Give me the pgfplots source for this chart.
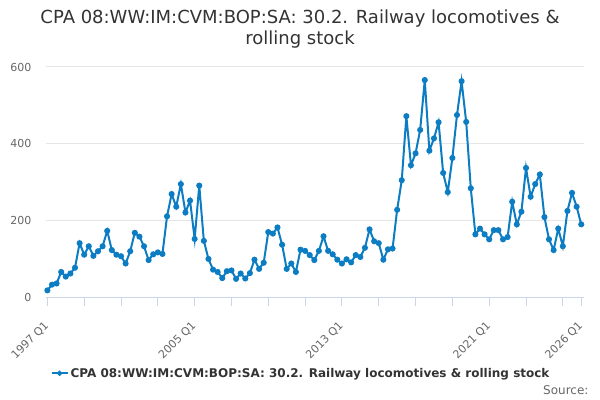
\documentclass[border=0pt]{standalone}
\usepackage{fontspec}
\setmainfont{DejaVu Sans}
\usepackage{pgfplots}
\pgfplotsset{compat=1.18}
\definecolor{series}{RGB}{12,125,194}
\definecolor{gridc}{HTML}{E6E6E6}
\definecolor{axisc}{HTML}{CCD6EB}
\definecolor{labc}{HTML}{666666}
\definecolor{titc}{HTML}{333333}
\begin{document}
\begin{tikzpicture}
\useasboundingbox (0,0) rectangle (600bp,400bp);
\node[anchor=base, font=\fontsize{18bp}{21bp}\selectfont, text=titc] at (300bp,376bp) {CPA 08:WW:IM:CVM:BOP:SA: 30.2. Railway locomotives \&};
\node[anchor=base, font=\fontsize{18bp}{21bp}\selectfont, text=titc] at (300bp,355bp) {rolling stock};
\node[anchor=base east, font=\fontsize{12bp}{14bp}\selectfont, text=labc] at (592bp,6bp) {Source:};
\begin{axis}[
  at={(46bp,102.7bp)}, anchor=south west,
  scale only axis, width=538bp, height=230.3bp,
  xmin=-0.3, xmax=116.6, ymin=0, ymax=600,
  axis x line*=bottom, axis y line*=left,
  axis line style={-},
  x axis line style={draw=axisc, line width=1bp},
  y axis line style={draw=none},
  ytick={0,200,400,600},
  ymajorgrids, grid style={draw=gridc, line width=1bp},
  xtick={0,32,64,96,116},
  xticklabels={1997 Q1,2005 Q1,2013 Q1,2021 Q1,2026 Q1},
  minor xtick={8,16,24,40,48,56,72,80,88,104,112},
  tick align=outside,
  major tick length=9bp, minor tick length=9bp,
  xtick style={draw=axisc, line width=1bp},
  minor x tick style={draw=axisc, line width=1bp},
  ytick style={draw=none},
  /pgf/number format/assume math mode=true,
  yticklabel style={font=\fontsize{11bp}{13bp}\selectfont, text=labc, anchor=east, xshift=-2bp},
  xticklabel style={xshift=-4bp, yshift=-9bp, font=\fontsize{11bp}{13bp}\selectfont, text=labc, rotate=45, anchor=north east},
  legend style={at={(0.474,-0.33)}, anchor=center, draw=none, fill=none,
    font=\bfseries\fontsize{12bp}{14bp}\selectfont, text=titc, inner sep=0pt},
  legend image code/.code={\draw[mark repeat=2,mark phase=2,mark size=1.5bp] plot coordinates {(0bp,0bp) (8bp,0bp) (16bp,0bp)};},
  clip=false,
]
\addplot[color=series, line width=2bp, mark=*, mark size=2bp] table[x=i,y=v] {
i v
0 18
1 33
2 36
3 66
4 54
5 62
6 77
7 141
8 111
9 133
10 108
11 120
12 133
13 173
14 123
15 111
16 107
17 88
18 120
19 168
20 158
21 133
22 97
23 112
24 117
25 113
26 211
27 269
28 236
29 295
30 221
31 252
32 152
33 291
34 147
35 100
36 72
37 66
38 50
39 68
40 70
41 48
42 62
43 49
44 63
45 98
46 74
47 90
48 170
49 166
50 182
51 137
52 74
53 88
54 66
55 124
56 121
57 110
58 97
59 121
60 159
61 121
62 112
63 98
64 88
65 99
66 91
67 110
68 105
69 129
70 177
71 146
72 141
73 98
74 125
75 127
76 228
77 305
78 472
79 344
80 375
81 436
82 566
83 382
84 414
85 456
86 324
87 274
88 363
89 475
90 563
91 457
92 284
93 164
94 179
95 164
96 151
97 175
98 175
99 151
100 157
101 249
102 190
103 223
104 337
105 262
106 295
107 320
108 209
109 151
110 123
111 179
112 133
113 225
114 272
115 236
116 190
};
\addlegendentry{CPA 08:WW:IM:CVM:BOP:SA: 30.2. Railway locomotives \& rolling stock}
\end{axis}
\end{tikzpicture}
\end{document}
